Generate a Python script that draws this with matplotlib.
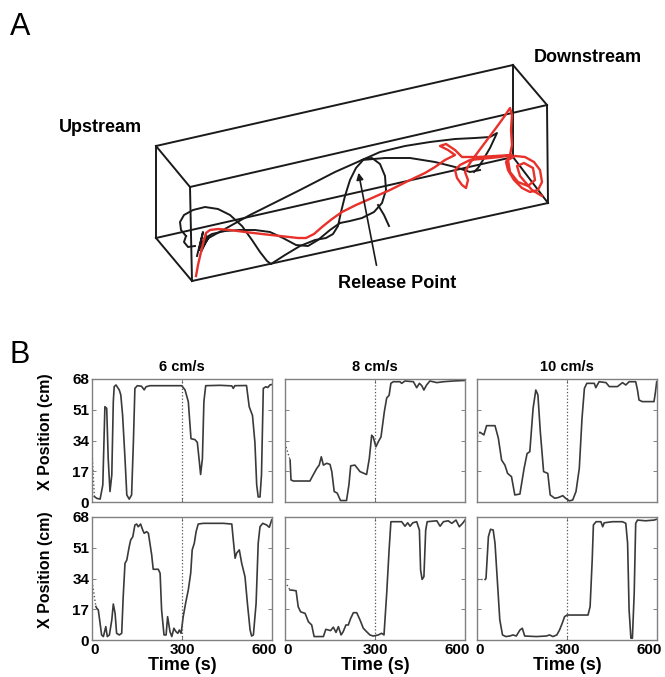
import matplotlib
matplotlib.use('Agg')
import matplotlib.pyplot as plt
from matplotlib.transforms import ScaledTranslation

plt.rcParams['font.family'] = ['Liberation Sans', 'DejaVu Sans']
plt.rcParams['font.weight'] = 'bold'
plt.rcParams['axes.titleweight'] = 'bold'
plt.rcParams['axes.labelweight'] = 'bold'

# ---------------- Panel A: flume sketch (pixel coords of the drawing) ----------------
corner_x = [156, 513, 547, 190, 156, 513, 548, 192]
corner_y = [146, 65, 105, 187, 238, 157, 203, 281]
box_edges = [(0, 1), (1, 2), (2, 3), (3, 0), (4, 5), (5, 6), (6, 7), (7, 4),
             (0, 4), (1, 5), (2, 6), (3, 7)]

# black fish track, split in strokes
black_strokes = [
    [(186, 236), (181, 230), (180, 222), (184, 215), (193, 210), (205, 207), (218, 209),
     (230, 215), (242, 226), (252, 240), (260, 252), (267, 261), (271, 264), (285, 255),
     (300, 246), (315, 240), (326, 238), (333, 234), (338, 226), (341, 212), (345, 196),
     (350, 180), (356, 168), (364, 159), (372, 158), (380, 164), (385, 176), (386, 190),
     (382, 203), (374, 212), (362, 218), (350, 221), (340, 223)],
    [(340, 223), (330, 230), (318, 240), (308, 246), (296, 245), (283, 238), (270, 232),
     (255, 230), (240, 230), (225, 231), (212, 234), (205, 238)],
    [(205, 240), (250, 215), (300, 190), (335, 172), (362, 160)],
    [(362, 160), (380, 152), (405, 146), (430, 142), (455, 139), (475, 138), (490, 137),
     (497, 133), (490, 148), (483, 160), (478, 168), (474, 172)],
    [(362, 160), (385, 158), (410, 158), (435, 162), (455, 167), (470, 172), (480, 170)],
    [(378, 205), (384, 215), (389, 226)],
    [(197, 256), (203, 232), (199, 250), (206, 235), (201, 252), (208, 238), (203, 246),
     (210, 236)],
    [(186, 236), (184, 242), (188, 247), (195, 246)],
]

# red fish track
red_track = [
    (196, 276), (198, 265), (201, 252), (204, 240), (206, 233), (210, 230), (218, 229),
    (230, 230), (245, 232), (262, 234), (280, 236), (298, 238), (306, 238), (314, 234),
    (322, 227), (332, 219), (342, 212), (356, 205), (372, 198), (390, 190), (408, 181),
    (425, 173), (435, 167), (445, 160), (455, 155), (448, 150), (440, 146), (446, 144),
    (455, 150), (462, 157), (478, 157), (495, 156), (512, 155), (500, 157), (470, 160),
    (460, 165), (455, 170), (457, 178), (462, 185), (466, 188), (468, 180), (465, 172),
    (470, 163), (478, 152), (487, 140), (496, 128), (504, 117), (510, 108), (512, 115),
    (511, 130), (512, 145), (510, 155), (506, 162), (508, 170), (514, 180), (522, 188),
    (530, 192), (538, 190), (542, 182), (540, 170), (534, 162), (525, 157), (515, 156),
    (508, 160), (510, 172), (518, 182), (528, 186), (535, 180), (533, 168), (524, 163),
    (517, 166), (520, 176), (532, 190), (542, 196),
]

# ---------------- Panel B: X position traces ----------------
speeds = ['6 cm/s', '8 cm/s', '10 cm/s']
x_ticks = [0, 300, 600]
y_ticks = [0, 17, 34, 51, 68]

t6a = [0, 8, 16, 27, 36, 43, 49, 54, 60, 66, 71, 74, 80, 91, 96, 102, 110, 116, 124, 132,
       138, 143, 151, 165, 174, 180, 193, 250, 299, 310, 321, 330, 343, 351, 358, 362, 368,
       373, 379, 427, 466, 471, 476, 515, 524, 535, 543, 549, 554, 560, 565, 571, 579, 586,
       593, 600]
x6a = [28, 3, 2, 1.6, 9.4, 52.7, 51.8, 24, 5.8, 15, 55.5, 63.8, 64.7, 61.9, 59.2, 48, 24,
       3.9, 1.6, 3.9, 33.3, 62.8, 64.3, 64, 62, 63.7, 64.3, 64.3, 64.3, 62, 55.5, 35, 34.5,
       33, 22, 15.2, 24, 55.5, 64.3, 64.5, 64.2, 62.8, 64.3, 64.4, 52.7, 47.8, 33, 9.4, 2.8,
       2.8, 15, 62.8, 63.7, 63.3, 64.7, 65]

t8a = [0, 17, 20, 28, 83, 94, 106, 114, 121, 128, 139, 150, 156, 164, 174, 185, 205, 213,
       219, 233, 250, 272, 281, 289, 294, 303, 311, 320, 331, 339, 347, 353, 361, 383, 389,
       400, 428, 439, 448, 456, 463, 472, 483, 506, 528, 561, 600]
x8a = [32.4, 23.2, 12.2, 11.6, 11.6, 15, 18.6, 20.4, 25, 20.4, 21.4, 20.8, 16.8, 5.8, 4.9,
       0.8, 0.8, 9.4, 20, 20.4, 16.8, 15.2, 24, 36.9, 36, 30.5, 33.3, 36, 49.8, 57.5, 59,
       65.6, 66.5, 66.5, 65.6, 66.9, 66.5, 63.2, 65.6, 64.3, 61.9, 64.7, 66.9, 66, 66.5,
       66.9, 67.2]

t10a = [1, 10, 15, 23, 32, 60, 71, 82, 93, 102, 115, 126, 143, 157, 167, 176, 187, 196, 203,
        211, 222, 236, 244, 259, 270, 286, 295, 308, 319, 330, 341, 350, 358, 366, 391, 396,
        407, 430, 441, 468, 485, 496, 507, 529, 535, 540, 551, 590, 595, 599]
x10a = [36.2, 38.5, 38, 37.1, 42.2, 42.2, 35.4, 23.2, 20.4, 15.8, 14, 3.9, 4.4, 18.6, 26.8,
        27.8, 51.8, 61.9, 59.2, 38.9, 16.8, 15.8, 3.9, 2.1, 2.4, 3.5, 2.1, 0.6, 1.1, 5.8,
        18.6, 46.2, 62.8, 65.6, 65.6, 63.2, 66.5, 66, 63.8, 63.8, 66, 64.7, 66.5, 66.5, 61.9,
        56.4, 55.5, 55.5, 61, 66.5]

t6b = [2, 13, 16, 21, 27, 32, 38, 46, 51, 58, 66, 71, 77, 82, 91, 99, 104, 110, 116, 124,
       129, 136, 143, 149, 154, 162, 169, 174, 182, 188, 199, 204, 221, 227, 232, 240, 247,
       252, 260, 266, 273, 280, 286, 291, 297, 304, 313, 321, 329, 334, 341, 347, 354, 371,
       438, 466, 471, 477, 482, 491, 499, 510, 518, 527, 532, 538, 547, 554, 560, 569, 582,
       591, 599]
x6b = [30.4, 18.5, 17.5, 16.6, 9.2, 2.8, 1.9, 7.4, 1.9, 2.8, 11.1, 19.9, 14.7, 3.7, 2.8,
       3.7, 24, 42.4, 44.2, 51.6, 55.3, 57.1, 63.6, 64.1, 62.6, 64.1, 60.8, 59, 59.9, 59, 47,
       39.1, 39.1, 36.9, 16.6, 2.8, 2.8, 12.9, 4.6, 1.9, 6.5, 4.6, 3.7, 5.5, 3.7, 12.9, 21.2,
       27.7, 36.9, 49.8, 53.5, 59.9, 64.1, 64.5, 64.5, 64.1, 55.3, 45.2, 48, 49.8, 42.4, 35,
       20.3, 5.5, 2.2, 2.8, 20.3, 53.5, 62.6, 64.5, 63.6, 62.3, 66.4]

t8b = [0, 17, 22, 37, 44, 52, 67, 78, 89, 97, 128, 136, 152, 161, 170, 178, 187, 194, 203,
       211, 219, 228, 239, 250, 261, 272, 283, 294, 311, 322, 330, 339, 347, 353, 389, 400,
       409, 417, 426, 439, 448, 452, 457, 463, 469, 474, 506, 517, 528, 544, 556, 570, 581,
       592, 600]
x8b = [32.2, 27.6, 27.6, 27.2, 18.4, 15.6, 14.7, 10.1, 8.3, 1.9, 1.9, 5.9, 5.2, 7.1, 4.2,
       7.4, 2.8, 4.6, 8.3, 8.3, 12, 15.1, 15.1, 11.1, 6.5, 4.6, 2.8, 2.2, 2.8, 3.7, 2.8,
       25.8, 49.8, 65.4, 65.4, 62.9, 64.8, 62.9, 64.8, 65.4, 60.8, 38.7, 33.5, 35, 60.8,
       65.4, 65.9, 62.9, 65.4, 65.9, 64.5, 66.3, 62.6, 64.5, 66.3]

t10b = [1, 27, 30, 38, 45, 54, 60, 67, 76, 85, 96, 109, 120, 131, 143, 151, 159, 198, 231,
        242, 253, 266, 275, 284, 292, 300, 370, 377, 384, 388, 397, 413, 419, 424, 452, 485,
        496, 502, 507, 513, 518, 524, 529, 535, 562, 590, 598]
x10b = [33.5, 33.5, 34, 57.1, 61.2, 60.8, 53.5, 35, 11.1, 2.8, 1.9, 2.2, 2.8, 2.2, 5.5, 6.5,
        2.2, 1.9, 2.2, 2.8, 1.9, 2.8, 5.5, 9.2, 12.9, 13.8, 13.8, 18.4, 44.2, 63.6, 65.4,
        65.4, 62.6, 64.8, 65.4, 65.4, 64.5, 53.5, 16.6, 1, 1, 25.8, 64.5, 66.3, 65.9, 66.3,
        66.7]

release_time = 300

W, H = 665, 677
fig = plt.figure(figsize=(W / 100, H / 100), dpi=100)

# panel A
axA = fig.add_axes([0, 1 - 320 / H, 1, 320 / H])
axA.set_xlim(0, W)
axA.set_ylim(320, 0)
axA.axis('off')
for i, j in box_edges:
    axA.plot([corner_x[i], corner_x[j]], [corner_y[i], corner_y[j]], color='#1a1a1a', lw=1.4)
for stroke in black_strokes:
    axA.plot([p[0] for p in stroke], [p[1] for p in stroke], color='#1a1a1a', lw=1.4)
axA.plot([p[0] for p in red_track], [p[1] for p in red_track], color='#e8312a', lw=1.7)
axA.annotate('', xy=(358, 170), xytext=(377, 268),
             arrowprops=dict(arrowstyle='-|>', color='#1a1a1a', lw=1.2, mutation_scale=10))
axA.text(397, 283, 'Release Point', ha='center', va='center', fontsize=13)
axA.text(100, 127, 'Upstream', ha='center', va='center', fontsize=13)
axA.text(588, 58, 'Downstream', ha='center', va='center', fontsize=13)
fig.text(10 / W, 1 - 27 / H, 'A', fontsize=22, fontweight='normal', va='center')
fig.text(10 / W, 1 - 355 / H, 'B', fontsize=22, fontweight='normal', va='center')

# panel B
traces = [[(t6a, x6a), (t8a, x8a), (t10a, x10a)],
          [(t6b, x6b), (t8b, x8b), (t10b, x10b)]]
lefts = [92, 285, 477]
tops = [379, 517]
aw, ah = 180, 123
for r in range(2):
    for c in range(3):
        ax = fig.add_axes([lefts[c] / W, 1 - (tops[r] + ah) / H, aw / W, ah / H])
        t, x = traces[r][c]
        ax.plot(t[:2], x[:2], color='#555555', lw=1.0, ls=':')
        ax.plot(t[1:], x[1:], color='#3a3a3a', lw=1.2)
        ax.axvline(release_time, color='#555555', lw=0.9, ls=':')
        ax.set_xlim(0, 600)
        ax.set_ylim(0, 68)
        ax.set_xticks(x_ticks)
        ax.set_yticks(y_ticks)
        for s in ax.spines.values():
            s.set_color('#808080')
            s.set_linewidth(1.0)
        ax.tick_params(direction='in', length=3, width=0.7, color='#808080',
                       top=True, right=True, labelsize=11, pad=2)
        if r == 0:
            ax.tick_params(labelbottom=False)
            ax.set_title(speeds[c], fontsize=10.5, pad=6)
        else:
            ax.set_xlabel('Time (s)', fontsize=13, labelpad=0)
            labs = ax.get_xticklabels()
            labs[0].set_transform(labs[0].get_transform() +
                                  ScaledTranslation(3 / 100, 0, fig.dpi_scale_trans))
            labs[-1].set_transform(labs[-1].get_transform() +
                                   ScaledTranslation(-8 / 100, 0, fig.dpi_scale_trans))
        if c == 0:
            ax.set_ylabel('X Position (cm)', fontsize=11.5)
            ax.yaxis.set_label_coords(-0.217, 0.57)
        else:
            ax.tick_params(labelleft=False)

fig.savefig('out.png', dpi=100)
